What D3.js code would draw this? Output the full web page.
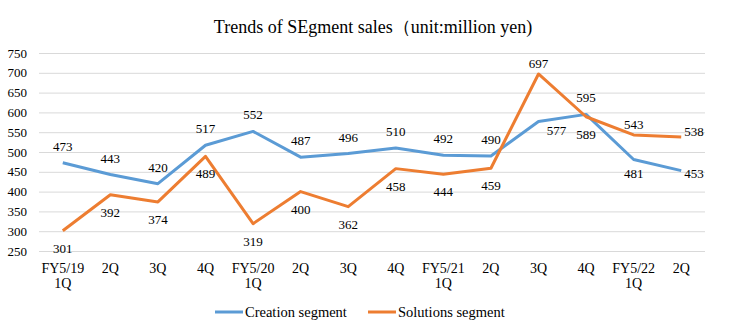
<!DOCTYPE html>
<html><head><meta charset="utf-8">
<script src="https://cdn.jsdelivr.net/npm/d3@7"></script>
<style>
html,body{margin:0;padding:0;background:#fff;}
svg{display:block;font-family:"Liberation Serif","Times New Roman",serif;}
</style></head>
<body>
<svg id="chart" width="731" height="336"></svg>
<script>
const title = "Trends of SEgment sales（unit:million yen)";
const categories = [["FY5/19","1Q"],["2Q"],["3Q"],["4Q"],["FY5/20","1Q"],["2Q"],["3Q"],["4Q"],["FY5/21","1Q"],["2Q"],["3Q"],["4Q"],["FY5/22","1Q"],["2Q"]];
const creation = [473,443,420,517,552,487,496,510,492,490,577,595,481,453];
const solutions = [301,392,374,489,319,400,362,458,444,459,697,589,543,538];
const yTicks = [250,300,350,400,450,500,550,600,650,700,750];
const seriesNames = ["Creation segment","Solutions segment"];
const colors = ["#5B9BD5","#ED7D31"];
// label placement per point: a=above, b=below, r=right, br=below-right
const creationLabelPos = ["a","a","a","a","a","a","a","a","a","a","br","a","b","r"];
const solutionsLabelPos = ["b","b","b","b","b","b","b","b","b","b","a","b","a","r"];

const svg = d3.select("#chart");
const mLeft = 39, mRight = 705, mTop = 53, mBottom = 251;

const x = d3.scaleBand().domain(d3.range(categories.length)).range([mLeft, mRight]);
const y = d3.scaleLinear().domain([250, 750]).range([mBottom, mTop]);
const cx = i => x(i) + x.bandwidth() / 2;

svg.append("text").attr("x", 373).attr("y", 33).attr("text-anchor", "middle")
  .attr("font-size", 18).attr("fill", "#000").text(title);

// gridlines
const yAxis = d3.axisLeft(y).tickValues(yTicks).tickSize(-(mRight - mLeft)).tickFormat(d3.format("d"));
const gy = svg.append("g").attr("transform", `translate(${mLeft},0)`).call(yAxis);
gy.select(".domain").remove();
gy.selectAll(".tick line").attr("stroke", "#D9D9D9").attr("stroke-width", 1);
gy.selectAll(".tick text").attr("x", -12).attr("font-size", 13).attr("fill", "#000")
  .attr("font-family", "Liberation Serif, Times New Roman, serif");

// x axis labels
const xAxis = d3.axisBottom(x).tickSize(0).tickFormat(() => "");
const gx = svg.append("g").attr("transform", `translate(0,${mBottom})`).call(xAxis);
gx.select(".domain").remove();
gx.selectAll(".tick").each(function(d) {
  const t = d3.select(this).append("text").attr("fill", "#000").attr("font-size", 14)
    .attr("text-anchor", "middle").attr("font-family", "Liberation Serif, Times New Roman, serif");
  categories[d].forEach((s, k) => t.append("tspan").attr("x", 0).attr("y", 22 + k * 15).text(s));
});

const line = d3.line().x((d, i) => cx(i)).y(d => y(d));
[creation, solutions].forEach((data, si) => {
  svg.append("path").datum(data).attr("d", line).attr("fill", "none")
    .attr("stroke", colors[si]).attr("stroke-width", 3).attr("stroke-linejoin", "round");
});

function labelOffset(pos, si) {
  if (pos === "a") return si === 0 ? [0, -16.5] : [0, -10.5];
  if (pos === "b") return si === 0 ? [0, 13.5] : [0, 17.5];
  if (pos === "r") return si === 0 ? [3, 2.5] : [3, -6];
  if (pos === "br") return [18, 8.5];
  return [0, 0];
}
[[creation, creationLabelPos], [solutions, solutionsLabelPos]].forEach(([data, posArr], si) => {
  svg.append("g").selectAll("text").data(data).join("text")
    .attr("x", (d, i) => cx(i) + labelOffset(posArr[i], si)[0])
    .attr("y", (d, i) => y(d) + labelOffset(posArr[i], si)[1])
    .attr("dy", "0.35em").attr("text-anchor", (d, i) => posArr[i] === "r" ? "start" : "middle")
    .attr("font-size", 13).attr("fill", "#000").text(d => d);
});

// legend
const legendItems = [{x: 215, name: seriesNames[0], c: colors[0]}, {x: 368, name: seriesNames[1], c: colors[1]}];
const lg = svg.append("g");
legendItems.forEach(it => {
  lg.append("line").attr("x1", it.x).attr("x2", it.x + 28).attr("y1", 312).attr("y2", 312)
    .attr("stroke", it.c).attr("stroke-width", 3);
  lg.append("text").attr("x", it.x + 30).attr("y", 312).attr("dy", "0.35em")
    .attr("font-size", 14.5).attr("fill", "#000").text(it.name);
});
</script>
</body></html>
